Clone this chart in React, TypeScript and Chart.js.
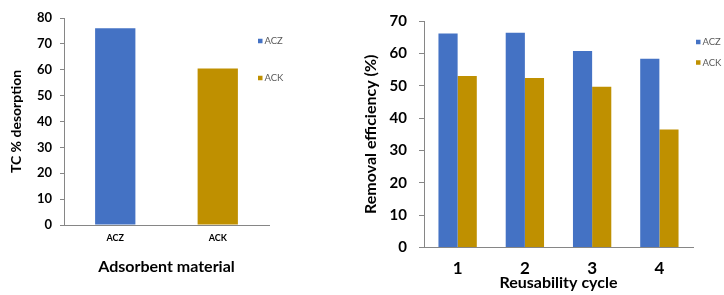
import { useEffect, useRef } from "react";
import { Chart, registerables } from "chart.js";

Chart.register(...registerables);

// Desorption of TC per adsorbent
const materials = ["ACZ", "ACK"];
const desorption = [76, 60.5];
const materialColors = ["#4472C4", "#BF9000"];

// Removal efficiency over reuse cycles
const cycles = ["1", "2", "3", "4"];
const seriesNames = ["ACZ", "ACK"];
const aczEfficiency = [66.1, 66.4, 60.7, 58.3];
const ackEfficiency = [53.0, 52.4, 49.7, 36.5];

const FONT = "Lato, 'Noto Sans', sans-serif";
const AXIS_GRAY = "#868686";

type LegendItem = { text: string; color: string };

// Small vertical legend drawn inside the plot, offset from the chart area's top-right corner
function insideLegend(id: string, items: (c: Chart) => LegendItem[], dx: number, firstDy: number, gap: number) {
  return {
    id,
    afterDraw(chart: Chart) {
      const { ctx, chartArea } = chart;
      ctx.save();
      ctx.font = `9.5px ${FONT}`;
      ctx.textBaseline = "middle";
      ctx.textAlign = "left";
      items(chart).forEach((it, i) => {
        const x = chartArea.right + dx;
        const y = chartArea.top + firstDy + i * gap;
        ctx.fillStyle = it.color;
        ctx.fillRect(x, y - 2.25, 4.5, 4.5);
        ctx.fillStyle = "#595959";
        ctx.fillText(it.text, x + 6.5, y);
      });
      ctx.restore();
    },
  };
}

function DesorptionChart() {
  const ref = useRef<HTMLCanvasElement>(null);
  useEffect(() => {
    const chart = new Chart(ref.current!, {
      type: "bar",
      data: {
        labels: materials,
        datasets: [
          {
            label: "TC % desorption",
            data: desorption,
            backgroundColor: materialColors,
            categoryPercentage: 1,
            barPercentage: 0.393,
          },
        ],
      },
      options: {
        responsive: false,
        animation: false,
        events: [],
        layout: { padding: { left: 8, top: 18, right: 91, bottom: 0 } },
        plugins: { legend: { display: false }, tooltip: { enabled: false } },
        scales: {
          x: {
            grid: { display: false, drawTicks: false },
            border: { display: true, color: AXIS_GRAY, width: 1 },
            ticks: { color: "#000", padding: 8, font: { family: FONT, size: 9, weight: "bold", lineHeight: 1.2 } },
            title: {
              display: true,
              text: "Adsorbent material",
              color: "#000",
              padding: { top: 0, bottom: 19 },
              font: { family: FONT, size: 16, weight: "bold", lineHeight: 1.2 },
            },
            afterFit: (s: any) => {
              s.height = 70;
            },
          },
          y: {
            min: 0,
            max: 80,
            grid: { drawOnChartArea: false, drawTicks: true, tickLength: 4, color: AXIS_GRAY },
            border: { display: true, color: AXIS_GRAY, width: 1 },
            ticks: { stepSize: 10, color: "#000", padding: 8, font: { family: FONT, size: 13, weight: "bold" } },
            title: {
              display: true,
              text: "TC % desorption",
              color: "#000",
              padding: { top: 0, bottom: 0 },
              font: { family: FONT, size: 14, weight: "bold", lineHeight: 1.2 },
            },
            afterFit: (s: any) => {
              s.width = 56;
            },
          },
        },
      },
      plugins: [
        insideLegend(
          "desorptionLegend",
          () => materials.map((m, i) => ({ text: m, color: materialColors[i] })),
          -11,
          23,
          37
        ),
      ],
    });
    return () => chart.destroy();
  }, []);
  return <canvas ref={ref} width={360} height={295} style={{ position: "absolute", left: 0, top: 0 }} />;
}

function ReuseChart() {
  const ref = useRef<HTMLCanvasElement>(null);
  useEffect(() => {
    const chart = new Chart(ref.current!, {
      type: "bar",
      data: {
        labels: cycles,
        datasets: [
          { label: seriesNames[0], data: aczEfficiency, backgroundColor: materialColors[0] },
          { label: seriesNames[1], data: ackEfficiency, backgroundColor: materialColors[1] },
        ],
      },
      options: {
        responsive: false,
        animation: false,
        events: [],
        datasets: { bar: { categoryPercentage: 0.57, barPercentage: 1 } },
        layout: { padding: { left: 1, top: 13, right: 31, bottom: 0 } },
        plugins: { legend: { display: false }, tooltip: { enabled: false } },
        scales: {
          x: {
            grid: { display: false, drawTicks: false },
            border: { display: true, color: AXIS_GRAY, width: 1 },
            ticks: { color: "#000", padding: 10.5, font: { family: FONT, size: 17, weight: "bold", lineHeight: 1.2 } },
            title: {
              display: true,
              text: "Reusability cycle",
              color: "#000",
              padding: { top: 0, bottom: 2.5 },
              font: { family: FONT, size: 16, weight: "bold", lineHeight: 1.2 },
            },
            afterFit: (s: any) => {
              s.height = 47.5;
            },
          },
          y: {
            min: 0,
            max: 70,
            grid: { drawOnChartArea: false, drawTicks: true, tickLength: 5, color: AXIS_GRAY },
            border: { display: true, color: AXIS_GRAY, width: 1 },
            ticks: { stepSize: 10, color: "#000", padding: 12, font: { family: FONT, size: 15, weight: "bold" } },
            title: {
              display: true,
              text: "Removal efficiency (%)",
              color: "#000",
              padding: { top: 0, bottom: 0 },
              font: { family: FONT, size: 16, weight: "bold", lineHeight: 1.2 },
            },
            afterFit: (s: any) => {
              s.width = 63;
            },
          },
        },
      },
      plugins: [
        insideLegend(
          "reuseLegend",
          (c) => c.data.datasets.map((d) => ({ text: String(d.label), color: String(d.backgroundColor) })),
          3,
          21,
          20.5
        ),
      ],
    });
    return () => chart.destroy();
  }, []);
  return <canvas ref={ref} width={364} height={295} style={{ position: "absolute", left: 360, top: 0 }} />;
}

export default function App() {
  return (
    <div style={{ position: "absolute", left: 0, top: 0, width: 724, height: 295, background: "#fff", overflow: "hidden" }}>
      <DesorptionChart />
      <ReuseChart />
    </div>
  );
}
